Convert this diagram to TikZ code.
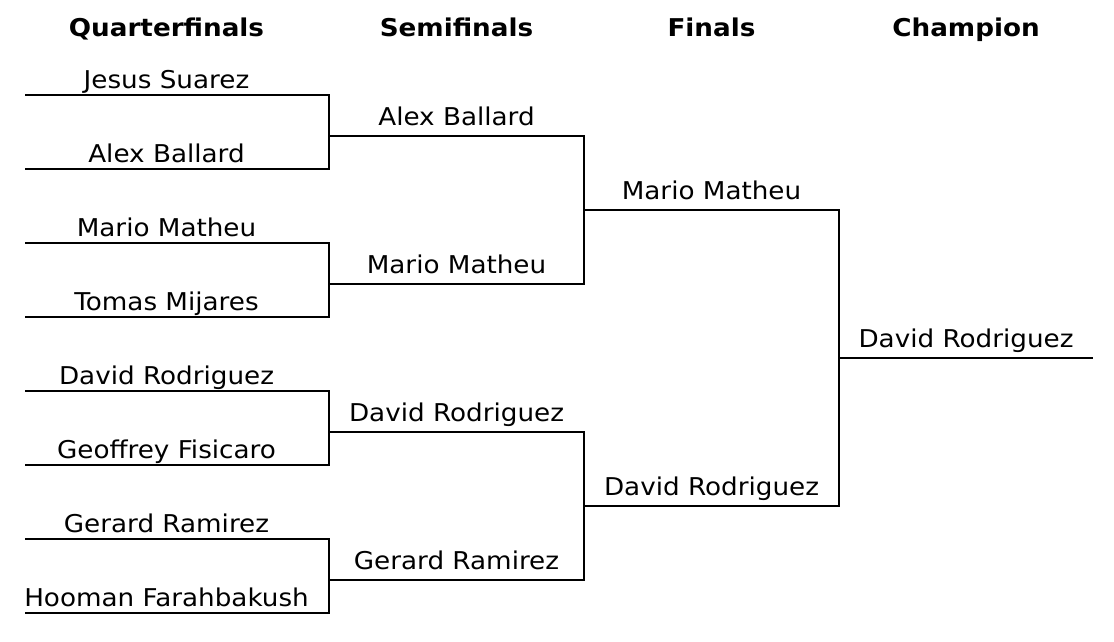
\documentclass[tikz,border=0pt]{standalone}
\usepackage{fontspec}
\setmainfont[FakeStretch=1.07]{DejaVu Sans}
\usetikzlibrary{positioning}

\begin{document}
\begin{tikzpicture}[
    x=1pt, y=-1pt,
    font=\fontsize{24.5}{28}\selectfont,
    player/.style={anchor=base, inner sep=0pt},
    heading/.style={anchor=base, inner sep=0pt, font=\fontsize{24.5}{28}\selectfont\bfseries},
    bracket/.style={line width=2pt, line join=miter}
]
\useasboundingbox (0,0) rectangle (1114,642);

% round headings
\node[heading] (hq) at (166.5,37) {Quarterfinals};
\node[heading] (hs) at (456.5,37) {Semifinals};
\node[heading] (hf) at (711.5,37) {Finals};
\node[heading] (hc) at (966,37) {Champion};

% quarterfinals
\foreach \n/\y/\name in {1/95/Jesus Suarez, 2/169/Alex Ballard, 3/243/Mario Matheu, 4/317/Tomas Mijares,
                         5/391/David Rodriguez, 6/465/Geoffrey Fisicaro, 7/539/Gerard Ramirez, 8/613/Hooman Farahbakush} {
  \coordinate (q\n-a) at (25,\y);
  \coordinate (q\n-b) at (329,\y);
  \node[player] (q\n) at (166.5,\y-6.5) {\name};
}

% semifinals
\foreach \n/\y/\name in {1/136/Alex Ballard, 2/284/Mario Matheu, 3/432/David Rodriguez, 4/580/Gerard Ramirez} {
  \coordinate (s\n-a) at (329,\y);
  \coordinate (s\n-b) at (584,\y);
  \node[player] (s\n) at (456.5,\y-10.5) {\name};
}

% finals
\foreach \n/\y/\name in {1/210/Mario Matheu, 2/506/David Rodriguez} {
  \coordinate (f\n-a) at (584,\y);
  \coordinate (f\n-b) at (839,\y);
  \node[player] (f\n) at (711.5,\y-10.5) {\name};
}

% champion
\coordinate (c-a) at (839,358);
\coordinate (c-b) at (1093,358);
\node[player] (c) at (966,347.5) {David Rodriguez};

% bracket lines
\foreach \a/\b in {q1/q2, q3/q4, q5/q6, q7/q8, s1/s2, s3/s4, f1/f2}
  \draw[bracket] (\a-a) -- (\a-b) -- (\b-b) -- (\b-a);
\foreach \s in {s1, s2, s3, s4, f1, f2, c}
  \draw[bracket] (\s-a) -- (\s-b);
\end{tikzpicture}
\end{document}
